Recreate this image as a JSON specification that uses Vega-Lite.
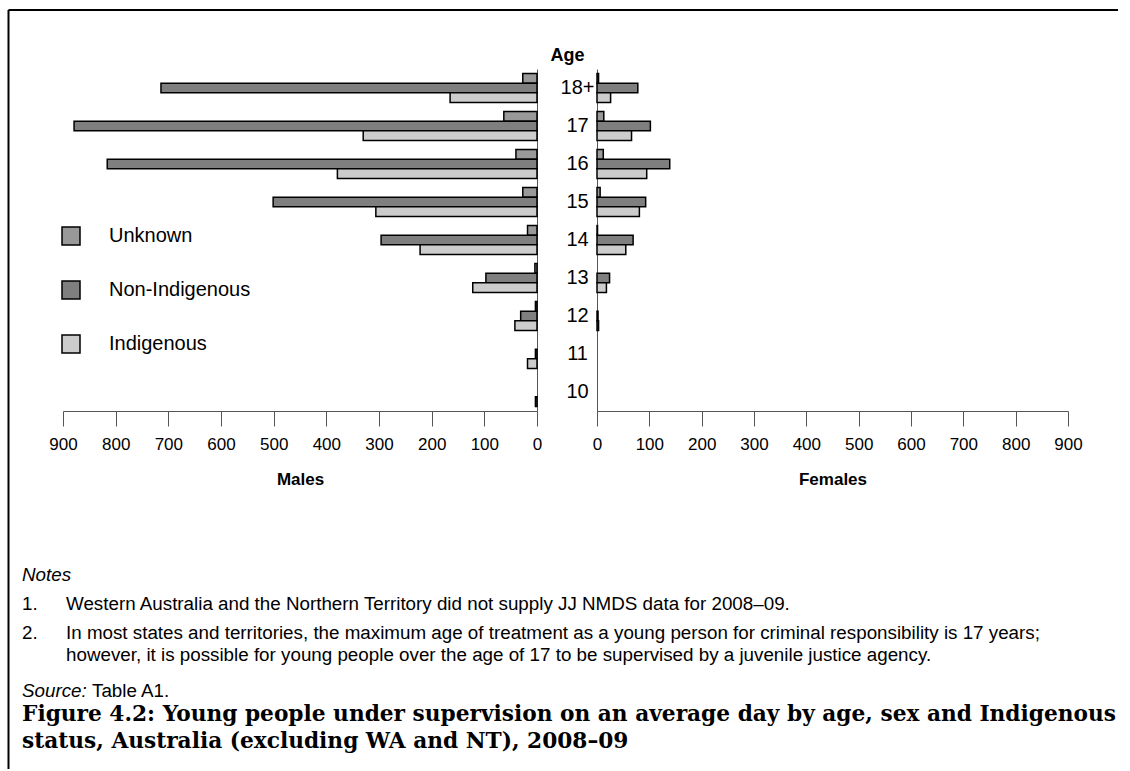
{
  "$schema": "https://vega.github.io/schema/vega-lite/v6.json",
  "background": "white",
  "padding": {"left": 2, "top": 9, "right": 0, "bottom": 0},
  "config": {
    "font": "Liberation Sans",
    "view": {"stroke": null},
    "axis": {"labelColor": "black", "titleColor": "black", "grid": false, "domainColor": "#555555", "tickColor": "#555555"},
    "text": {"color": "black"}
  },
  "datasets": {
    "bars": [
      {"sex": "Males", "age": "18+", "status": "Unknown", "value": 27},
      {"sex": "Males", "age": "18+", "status": "Non-Indigenous", "value": 714},
      {"sex": "Males", "age": "18+", "status": "Indigenous", "value": 165},
      {"sex": "Males", "age": "17", "status": "Unknown", "value": 63},
      {"sex": "Males", "age": "17", "status": "Non-Indigenous", "value": 879},
      {"sex": "Males", "age": "17", "status": "Indigenous", "value": 330},
      {"sex": "Males", "age": "16", "status": "Unknown", "value": 40},
      {"sex": "Males", "age": "16", "status": "Non-Indigenous", "value": 816},
      {"sex": "Males", "age": "16", "status": "Indigenous", "value": 379},
      {"sex": "Males", "age": "15", "status": "Unknown", "value": 27},
      {"sex": "Males", "age": "15", "status": "Non-Indigenous", "value": 501},
      {"sex": "Males", "age": "15", "status": "Indigenous", "value": 306},
      {"sex": "Males", "age": "14", "status": "Unknown", "value": 18},
      {"sex": "Males", "age": "14", "status": "Non-Indigenous", "value": 296},
      {"sex": "Males", "age": "14", "status": "Indigenous", "value": 222},
      {"sex": "Males", "age": "13", "status": "Unknown", "value": 4},
      {"sex": "Males", "age": "13", "status": "Non-Indigenous", "value": 97},
      {"sex": "Males", "age": "13", "status": "Indigenous", "value": 122},
      {"sex": "Males", "age": "12", "status": "Unknown", "value": 3},
      {"sex": "Males", "age": "12", "status": "Non-Indigenous", "value": 31},
      {"sex": "Males", "age": "12", "status": "Indigenous", "value": 42},
      {"sex": "Males", "age": "11", "status": "Non-Indigenous", "value": 3},
      {"sex": "Males", "age": "11", "status": "Indigenous", "value": 18},
      {"sex": "Males", "age": "10", "status": "Indigenous", "value": 3},
      {"sex": "Females", "age": "18+", "status": "Unknown", "value": 3},
      {"sex": "Females", "age": "18+", "status": "Non-Indigenous", "value": 78},
      {"sex": "Females", "age": "18+", "status": "Indigenous", "value": 26},
      {"sex": "Females", "age": "17", "status": "Unknown", "value": 13},
      {"sex": "Females", "age": "17", "status": "Non-Indigenous", "value": 102},
      {"sex": "Females", "age": "17", "status": "Indigenous", "value": 66},
      {"sex": "Females", "age": "16", "status": "Unknown", "value": 12},
      {"sex": "Females", "age": "16", "status": "Non-Indigenous", "value": 139},
      {"sex": "Females", "age": "16", "status": "Indigenous", "value": 95},
      {"sex": "Females", "age": "15", "status": "Unknown", "value": 6},
      {"sex": "Females", "age": "15", "status": "Non-Indigenous", "value": 93},
      {"sex": "Females", "age": "15", "status": "Indigenous", "value": 81},
      {"sex": "Females", "age": "14", "status": "Unknown", "value": 1},
      {"sex": "Females", "age": "14", "status": "Non-Indigenous", "value": 69},
      {"sex": "Females", "age": "14", "status": "Indigenous", "value": 55},
      {"sex": "Females", "age": "13", "status": "Non-Indigenous", "value": 24},
      {"sex": "Females", "age": "13", "status": "Indigenous", "value": 18},
      {"sex": "Females", "age": "12", "status": "Non-Indigenous", "value": 2},
      {"sex": "Females", "age": "12", "status": "Indigenous", "value": 3}
    ],
    "notes": [
      {"row": 0, "kind": "italic", "text": "Notes"},
      {"row": 1, "kind": "num", "text": "1."},
      {"row": 1, "kind": "body", "text": "Western Australia and the Northern Territory did not supply JJ NMDS data for 2008–09."},
      {"row": 2, "kind": "num", "text": "2."},
      {"row": 2, "kind": "body", "text": "In most states and territories, the maximum age of treatment as a young person for criminal responsibility is 17 years;\nhowever, it is possible for young people over the age of 17 to be supervised by a juvenile justice agency."},
      {"row": 4, "kind": "italic", "text": "Source:"},
      {"row": 4, "kind": "source", "text": "Table A1."},
      {"row": 5, "kind": "caption", "text": "Figure 4.2: Young people under supervision on an average day by age, sex and Indigenous\nstatus, Australia (excluding WA and NT), 2008–09"}
    ]
  },
  "bounds": "flush",
  "spacing": 496.5,
  "vconcat": [
    {
      "bounds": "flush",
      "spacing": 60,
      "hconcat": [
        {
          "width": 1,
          "height": 342,
          "data": {"values": []},
          "mark": {"type": "rule"},
          "encoding": {
            "x": {"field": "fx", "type": "quantitative", "scale": {"domain": [0, 1], "range": [6, 1122]}, "axis": {"orient": "top", "offset": 59.5, "labels": false, "ticks": false, "title": null, "domainColor": "black", "domainWidth": 2}},
            "y": {"field": "fy", "type": "quantitative", "scale": {"domain": [0, 1], "range": [699.5, -59.5]}, "axis": {"orient": "left", "offset": -6, "labels": false, "ticks": false, "title": null, "domainColor": "black", "domainWidth": 2}}
          }
        },
        {
          "width": 474,
          "height": 342,
          "data": {"name": "bars"},
          "transform": [{"filter": "datum.sex == 'Males'"}],
          "mark": {"type": "bar", "stroke": "black", "strokeWidth": 1.5},
          "encoding": {
            "y": {
              "field": "age", "type": "ordinal",
              "sort": ["18+", "17", "16", "15", "14", "13", "12", "11", "10"],
              "scale": {"paddingInner": 0.24, "paddingOuter": 0.12},
              "axis": {"orient": "right", "title": "Age", "titleAngle": 0, "titleX": 30, "titleY": -14, "titleAlign": "center", "titleBaseline": "middle", "titleFontSize": 18, "titleFontWeight": "bold", "ticks": false, "tickSize": 0, "labelPadding": 40, "labelAlign": "center", "labelBaseline": "middle", "labelFontSize": 20, "domainWidth": 1}
            },
            "yOffset": {"field": "status", "type": "nominal", "sort": ["Unknown", "Non-Indigenous", "Indigenous"], "scale": {"paddingInner": 0, "paddingOuter": 0}},
            "x": {
              "field": "value", "type": "quantitative",
              "scale": {"domain": [0, 900], "reverse": true, "nice": false},
              "axis": {"values": [0, 100, 200, 300, 400, 500, 600, 700, 800, 900], "title": "Males", "titleFontSize": 17, "titleFontWeight": "bold", "titlePadding": 19, "labelFontSize": 17, "labelPadding": 10, "tickSize": 15, "labelFlush": false}
            },
            "color": {
              "field": "status", "type": "nominal",
              "scale": {"domain": ["Unknown", "Non-Indigenous", "Indigenous"], "range": ["#999999", "#7f7f7f", "#cccccc"]},
              "legend": {"orient": "none", "legendX": 59, "legendY": 157, "title": null, "symbolType": "square", "symbolSize": 324, "symbolStrokeColor": "black", "symbolStrokeWidth": 1.5, "symbolOpacity": 1, "labelFontSize": 20, "labelOffset": 28, "rowPadding": 30, "labelColor": "black"}
            }
          }
        },
        {
          "width": 471,
          "height": 342,
          "data": {"name": "bars"},
          "transform": [{"filter": "datum.sex == 'Females'"}],
          "mark": {"type": "bar", "stroke": "black", "strokeWidth": 1.5},
          "encoding": {
            "y": {
              "field": "age", "type": "ordinal",
              "sort": ["18+", "17", "16", "15", "14", "13", "12", "11", "10"],
              "scale": {"domain": ["18+", "17", "16", "15", "14", "13", "12", "11", "10"], "paddingInner": 0.24, "paddingOuter": 0.12},
              "axis": {"orient": "left", "title": null, "labels": false, "ticks": false, "domainWidth": 1}
            },
            "yOffset": {"field": "status", "type": "nominal", "sort": ["Unknown", "Non-Indigenous", "Indigenous"], "scale": {"domain": ["Unknown", "Non-Indigenous", "Indigenous"], "paddingInner": 0, "paddingOuter": 0}},
            "x": {
              "field": "value", "type": "quantitative",
              "scale": {"domain": [0, 900], "nice": false},
              "axis": {"values": [0, 100, 200, 300, 400, 500, 600, 700, 800, 900], "title": "Females", "titleFontSize": 17, "titleFontWeight": "bold", "titlePadding": 19, "labelFontSize": 17, "labelPadding": 10, "tickSize": 15, "labelFlush": false}
            },
            "color": {
              "field": "status", "type": "nominal",
              "scale": {"domain": ["Unknown", "Non-Indigenous", "Indigenous"], "range": ["#999999", "#7f7f7f", "#cccccc"]}
            }
          }
        }
      ]
    },
    {
      "width": 1000,
      "height": 145,
      "data": {"name": "notes"},
      "encoding": {
        "y": {"field": "row", "type": "ordinal", "scale": {"type": "point", "domain": [0, 1, 2, 3, 4, 5], "padding": 0}, "axis": null},
        "x": {"value": 0},
        "text": {"field": "text"}
      },
      "layer": [
        {"transform": [{"filter": "datum.kind == 'italic'"}], "mark": {"type": "text", "align": "left", "baseline": "top", "fontStyle": "italic", "fontSize": 18.8, "dx": 20}},
        {"transform": [{"filter": "datum.kind == 'num'"}], "mark": {"type": "text", "align": "left", "baseline": "top", "fontSize": 18.8, "dx": 20}},
        {"transform": [{"filter": "datum.kind == 'body'"}], "mark": {"type": "text", "align": "left", "baseline": "top", "fontSize": 18.8, "dx": 64, "lineBreak": "\n", "lineHeight": 22}},
        {"transform": [{"filter": "datum.kind == 'source'"}], "mark": {"type": "text", "align": "left", "baseline": "top", "fontSize": 18.8, "dx": 90}},
        {"transform": [{"filter": "datum.kind == 'caption'"}], "mark": {"type": "text", "align": "left", "baseline": "top", "font": "DejaVu Serif", "fontWeight": "bold", "fontSize": 21.7, "dx": 20, "dy": -7, "lineBreak": "\n", "lineHeight": 27}}
      ]
    }
  ]
}
